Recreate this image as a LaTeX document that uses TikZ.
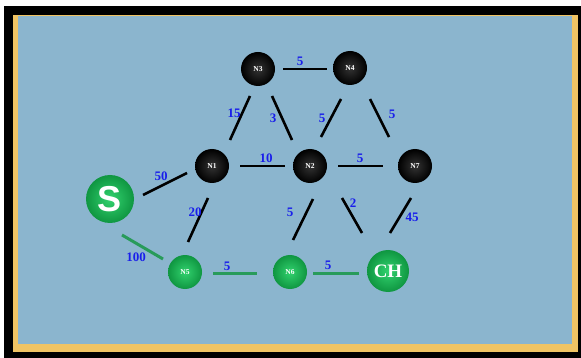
\documentclass[tikz,border=0pt]{standalone}
\usepackage{fontspec}
\setmainfont{Liberation Serif}
\newfontfamily\sansb{Liberation Sans}
\usetikzlibrary{calc}
\definecolor{bgblue}{RGB}{139,181,206}
\definecolor{frameyel}{RGB}{240,196,100}
\definecolor{lblue}{RGB}{25,30,235}
\definecolor{gedge}{RGB}{40,155,90}
\definecolor{gin}{RGB}{50,210,110}
\definecolor{gout}{RGB}{15,150,65}
\tikzset{
  bnode/.style={circle,minimum size=34pt,inner sep=0pt,shading=radial,inner color=black!80,outer color=black,text=white,font=\bfseries\fontsize{7.5}{8}\selectfont},
  gnode/.style={circle,minimum size=34pt,inner sep=0pt,shading=radial,inner color=gin,outer color=gout,text=white,font=\bfseries\fontsize{7.5}{8}\selectfont},
  edge/.style={draw=black,line width=2.6pt},
  gline/.style={draw=gedge,line width=3pt},
  wlabel/.style={text=lblue,font=\bfseries\fontsize{13}{13}\selectfont,inner sep=0pt}
}
\begin{document}
\begin{tikzpicture}[x=1pt,y=-1pt]
\useasboundingbox (0,0) rectangle (581,358);
\fill[white] (0,0) rectangle (581,358);
\fill[black] (4,6) rectangle (581,358);
\fill[frameyel] (13,15) rectangle (578,352);
\fill[bgblue] (18,16.5) rectangle (572,344);
% nodes
\node[bnode] (n3) at (258,69) {N3};
\node[bnode] (n4) at (350,68) {N4};
\node[bnode] (n1) at (212,166) {N1};
\node[bnode] (n2) at (310,166) {N2};
\node[bnode] (n7) at (415,166) {N7};
\node[gnode,minimum size=48pt,font=\sansb\bfseries\fontsize{36}{36}\selectfont] (s) at (110,199) {S};
\node[gnode] (n5) at (185,272) {N5};
\node[gnode] (n6) at (290,272) {N6};
\node[gnode,minimum size=42pt,font=\bfseries\fontsize{19}{19}\selectfont] (ch) at (388,271) {CH};
% edges
\draw[edge] ($(n3)+(25,0)$) -- ($(n4)+(-23,1)$);
\draw[edge] ($(n3)+(-8,27)$) -- ($(n1)+(18,-26)$);
\draw[edge] ($(n3)+(14,27)$) -- ($(n2)+(-18,-26)$);
\draw[edge] ($(n4)+(-9,31)$) -- ($(n2)+(11,-29)$);
\draw[edge] ($(n4)+(20,31)$) -- ($(n7)+(-26,-29)$);
\draw[edge] ($(n1)+(28,0)$) -- ($(n2)+(-25,0)$);
\draw[edge] ($(n2)+(28,0)$) -- ($(n7)+(-32,0)$);
\draw[edge] ($(s)+(33,-4)$) -- ($(n1)+(-25,7)$);
\draw[edge] ($(n1)+(-4,32)$) -- ($(n5)+(3,-30)$);
\draw[gline] ($(s)+(12,36)$) -- ($(n5)+(-22,-13)$);
\draw[gline] ($(n5)+(28,1)$) -- ($(n6)+(-33,1)$);
\draw[edge] ($(n2)+(3,33)$) -- ($(n6)+(3,-32)$);
\draw[edge] ($(n2)+(32,32)$) -- ($(ch)+(-26,-38)$);
\draw[edge] ($(n7)+(-4,32)$) -- ($(ch)+(2,-38)$);
\draw[gline] ($(n6)+(23,1)$) -- ($(ch)+(-29,2)$);
% labels
\node[wlabel] (l34) at (300,61) {5};
\node[wlabel] (l31) at (234,113) {15};
\node[wlabel] (l32) at (273,118) {3};
\node[wlabel] (l42) at (322,118) {5};
\node[wlabel] (l47) at (392,114) {5};
\node[wlabel] (l12) at (266,158) {10};
\node[wlabel] (l27) at (360,158) {5};
\node[wlabel] (ls1) at (161,176) {50};
\node[wlabel] (l15) at (195,212) {20};
\node[wlabel] (ls5) at (136,257) {100};
\node[wlabel] (l56) at (227,266) {5};
\node[wlabel] (l26) at (290,212) {5};
\node[wlabel] (l2c) at (353,203) {2};
\node[wlabel] (l7c) at (412,217) {45};
\node[wlabel] (l6c) at (328,265) {5};
\end{tikzpicture}
\end{document}
